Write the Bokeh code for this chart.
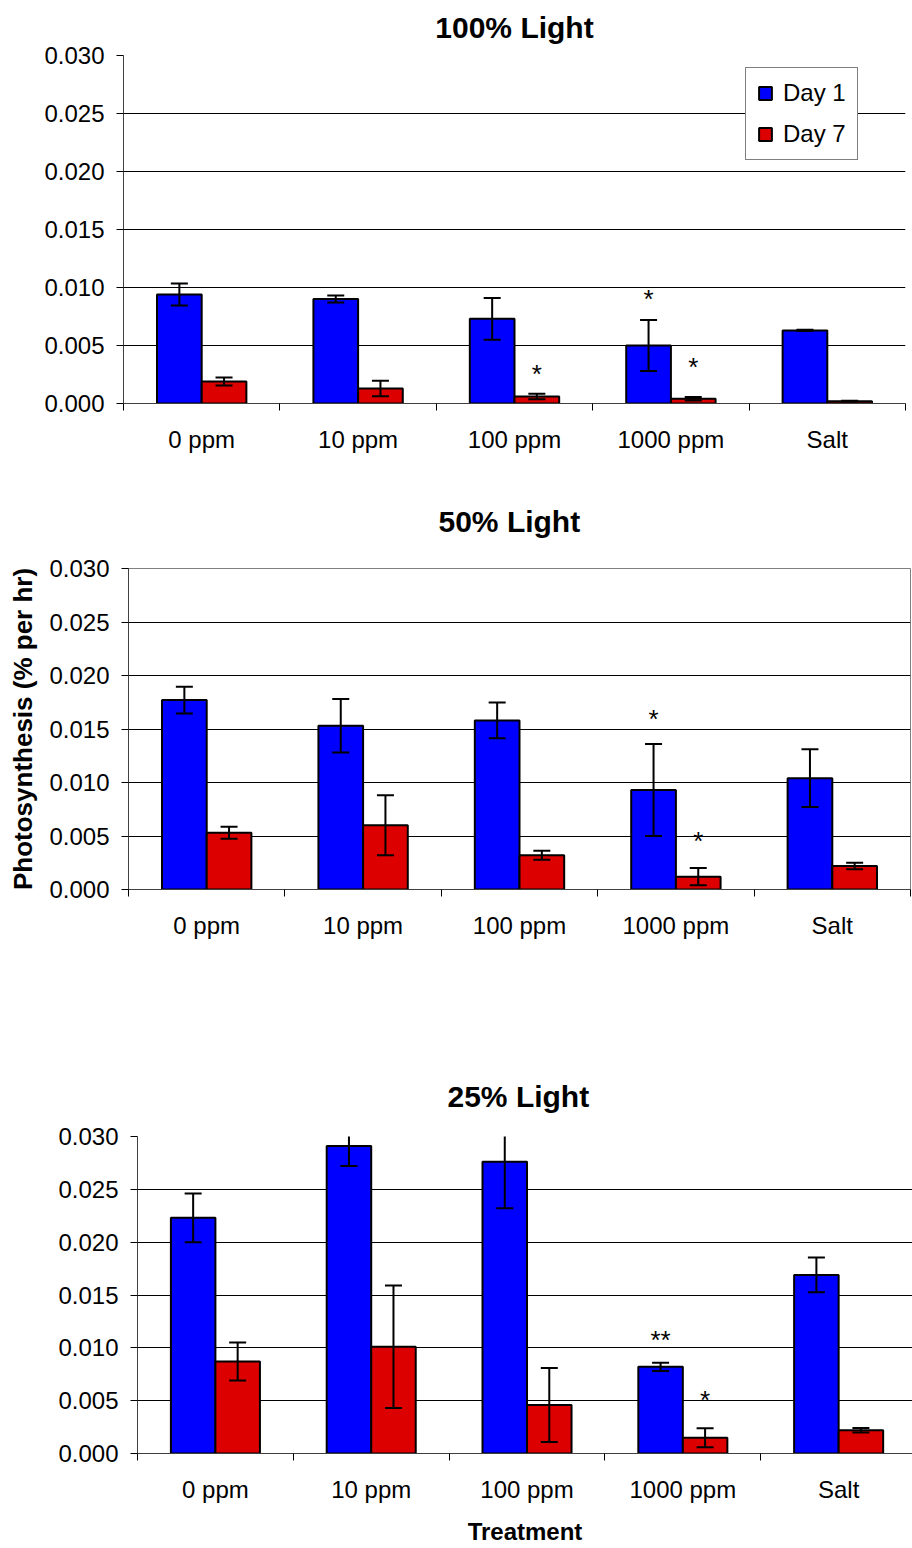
import numpy as np
from bokeh.plotting import figure
from bokeh.models import (Range1d, FixedTicker, NumeralTickFormatter, ColumnDataSource,
                          Legend, LegendItem, Title)
from bokeh.embed import file_html
from bokeh.resources import INLINE
from bokeh.core.properties import value

# ---------------- data ----------------
categories = ["0 ppm", "10 ppm", "100 ppm", "1000 ppm", "Salt"]
series_names = ["Day 1", "Day 7"]
y_ticks = [0.000, 0.005, 0.010, 0.015, 0.020, 0.025, 0.030]

# 100% Light
l100_day1 = [0.0094, 0.0090, 0.0073, 0.0050, 0.0063]
l100_day1_err = [0.00095, 0.0003, 0.0018, 0.0022, 0.00005]
l100_day7 = [0.0019, 0.0013, 0.0006, 0.0004, 0.0002]
l100_day7_err = [0.00035, 0.00067, 0.00023, 0.00015, 0.00003]
l100_mark_text = ["*", "*", "*"]
l100_mark_cat = ["1000 ppm", "100 ppm", "1000 ppm"]
l100_mark_series = ["Day 1", "Day 7", "Day 7"]
l100_mark_y = [0.0095, 0.0031, 0.0037]

# 50% Light
l50_day1 = [0.0177, 0.0153, 0.0158, 0.0093, 0.0104]
l50_day1_err = [0.00126, 0.0025, 0.00167, 0.0043, 0.0027]
l50_day7 = [0.0053, 0.0060, 0.0032, 0.0012, 0.0022]
l50_day7_err = [0.00056, 0.0028, 0.00043, 0.0008, 0.0003]
l50_mark_text = ["*", "*"]
l50_mark_cat = ["1000 ppm", "1000 ppm"]
l50_mark_series = ["Day 1", "Day 7"]
l50_mark_y = [0.0165, 0.0051]

# 25% Light
l25_day1 = [0.0223, 0.0291, 0.0276, 0.0082, 0.0169]
l25_day1_err = [0.0023, 0.0019, 0.0044, 0.0004, 0.00165]
l25_day7 = [0.0087, 0.0101, 0.0046, 0.0015, 0.0022]
l25_day7_err = [0.0018, 0.0058, 0.0035, 0.0009, 0.00022]
l25_mark_text = ["**", "*"]
l25_mark_cat = ["1000 ppm", "1000 ppm"]
l25_mark_series = ["Day 1", "Day 7"]
l25_mark_y = [0.01135, 0.0056]

# ---------------- style ----------------
FONT = "Liberation Sans"
BLUE = "#0000FF"
RED = "#DC0000"
BAR_W = 2.0 / 7.0   # Excel gap width 150%
offsets = {"Day 1": -BAR_W / 2, "Day 7": BAR_W / 2}
colors = {"Day 1": BLUE, "Day 7": RED}


def make_panel(title, d1, e1, d7, e7, mtext, mcat, mser, my, *, height, left, right,
               top, bottom, x_end, title_standoff, title_align="center", title_offset=0,
               legend=False, ylabel=None, xlabel=None, outline=False, margin=0):
    n = len(categories)
    p = figure(width=912, height=height, output_backend="svg", toolbar_location=None,
               x_range=Range1d(-0.5, x_end), y_range=Range1d(0, 0.03),
               min_border_left=left, min_border_right=right,
               min_border_top=top, min_border_bottom=bottom,
               background_fill_color="white", border_fill_color="white",
               margin=margin)
    p.outline_line_color = "#808080" if outline else None
    p.add_layout(Title(text=title, align=title_align, offset=title_offset,
                       text_font=FONT, text_font_size="30px", text_font_style="bold",
                       text_color="black", standoff=title_standoff), "above")

    idx = np.arange(n)
    renderers = {}
    for name, vals, errs in (("Day 1", d1, e1), ("Day 7", d7, e7)):
        x = idx + offsets[name]
        vals = np.array(vals)
        errs = np.array(errs)
        src = ColumnDataSource(dict(x=x, top=vals, lo=vals - errs, hi=vals + errs))
        r = p.vbar(x="x", top="top", bottom=0, width=BAR_W, source=src,
                   fill_color=colors[name], line_color="black", line_width=2)
        renderers[name] = r
        p.segment(x0="x", y0="lo", x1="x", y1="hi", source=src,
                  line_color="black", line_width=2)
        p.scatter(x="x", y="hi", source=src, marker="dash", size=17,
                  line_color="black", line_width=2)
        p.scatter(x="x", y="lo", source=src, marker="dash", size=17,
                  line_color="black", line_width=2)

    mx = [categories.index(c) + offsets[s] for c, s in zip(mcat, mser)]
    p.text(x=mx, y=my, text=mtext, text_font=value(FONT), text_font_size="26px",
           text_align="center", text_baseline="middle", y_offset=6,
           text_color="black")

    # axes
    xa = p.xaxis[0]
    xa.ticker = FixedTicker(ticks=list(range(n)),
                            minor_ticks=[i - 0.5 for i in range(n + 1)])
    xa.major_label_overrides = {i: c for i, c in enumerate(categories)}
    xa.major_tick_line_color = None
    xa.major_tick_out = 0
    xa.major_tick_in = 0
    xa.minor_tick_out = 7
    xa.minor_tick_in = 0
    xa.minor_tick_line_color = "black"
    xa.minor_tick_line_width = 1
    xa.axis_line_color = "#404040"
    xa.axis_line_width = 1
    xa.major_label_standoff = 15
    xa.major_label_text_font = FONT
    xa.major_label_text_font_size = "24px"
    xa.major_label_text_color = "black"
    if xlabel:
        xa.axis_label = xlabel
        xa.axis_label_text_font = FONT
        xa.axis_label_text_font_size = "24px"
        xa.axis_label_text_font_style = "bold"
        xa.axis_label_text_color = "black"
        xa.axis_label_standoff = 12

    ya = p.yaxis[0]
    ya.ticker = FixedTicker(ticks=y_ticks)
    ya.formatter = NumeralTickFormatter(format="0.000")
    ya.major_tick_out = 7
    ya.major_tick_in = 0
    ya.minor_tick_line_color = None
    ya.major_tick_line_color = "black"
    ya.axis_line_color = "#404040"
    ya.major_label_standoff = 12
    ya.major_label_text_font = FONT
    ya.major_label_text_font_size = "24px"
    ya.major_label_text_color = "black"
    if ylabel:
        ya.axis_label = ylabel
        ya.axis_label_text_font = FONT
        ya.axis_label_text_font_size = "26px"
        ya.axis_label_text_font_style = "bold"
        ya.axis_label_text_color = "black"
        ya.axis_label_standoff = 8

    p.xgrid.visible = False
    p.ygrid.grid_line_color = "black"
    p.ygrid.grid_line_width = 1

    if legend:
        lg = Legend(items=[LegendItem(label=s, renderers=[renderers[s]]) for s in series_names],
                    location=(622, 243), orientation="vertical",
                    label_text_font=FONT, label_text_font_size="24px",
                    label_text_color="black", glyph_width=16, glyph_height=16,
                    label_standoff=10, padding=11, spacing=13, margin=0,
                    border_line_color="black", border_line_width=1,
                    background_fill_color="white", background_fill_alpha=1)
        p.add_layout(lg, "center")
    return p


p1 = make_panel("100% Light", l100_day1, l100_day1_err, l100_day7, l100_day7_err,
                l100_mark_text, l100_mark_cat, l100_mark_series, l100_mark_y,
                height=476, left=123, right=7, top=61, bottom=67, x_end=4.5,
                title_standoff=24, legend=True, margin=(-6, 0, 0, 0))
p2 = make_panel("50% Light", l50_day1, l50_day1_err, l50_day7, l50_day7_err,
                l50_mark_text, l50_mark_cat, l50_mark_series, l50_mark_y,
                height=490, left=128, right=2, top=98, bottom=71, x_end=4.5,
                title_standoff=61, title_align="left", title_offset=310,
                ylabel="Photosynthesis (% per hr)", outline=True)
p3 = make_panel("25% Light", l25_day1, l25_day1_err, l25_day7, l25_day7_err,
                l25_mark_text, l25_mark_cat, l25_mark_series, l25_mark_y,
                height=588, left=137, right=0, top=176, bottom=95, x_end=4.474,
                title_standoff=47, title_align="left", title_offset=310,
                xlabel="Treatment")

open("out.html", "w").write(file_html([p1, p2, p3], INLINE))
